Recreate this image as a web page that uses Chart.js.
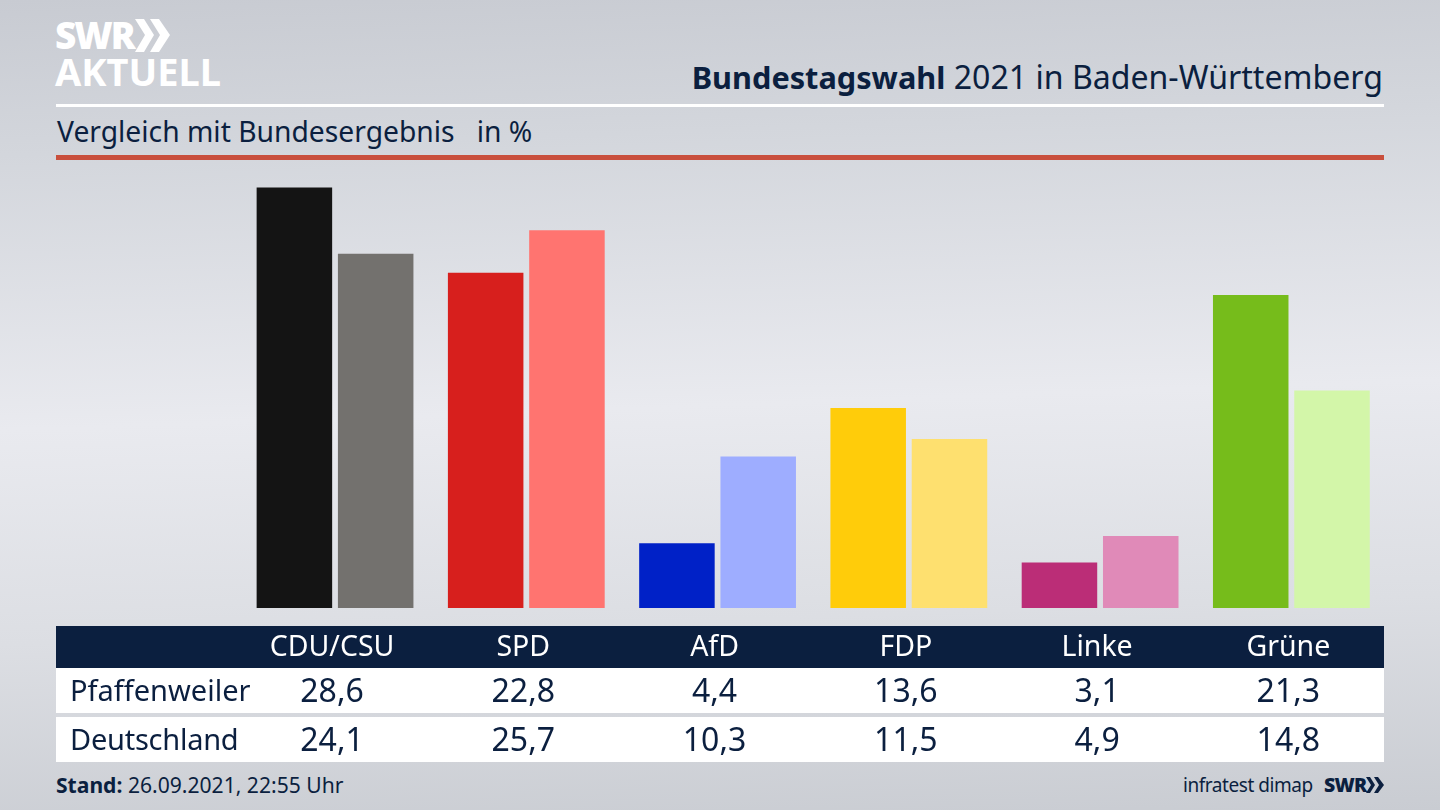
<!DOCTYPE html>
<html lang="de"><head><meta charset="utf-8"><title>Bundestagswahl 2021 in Baden-Württemberg</title>
<script src="https://cdn.jsdelivr.net/npm/chart.js@4/dist/chart.umd.min.js"></script>
<style>
html,body{margin:0;padding:0;width:1440px;height:810px;overflow:hidden}
body{position:relative;font-family:"Noto Sans",sans-serif;color:#0b1f3f;
background:linear-gradient(178deg,#c8cbd2 0%,#d3d6dc 18%,#e9eaef 50%,#dcdee3 75%,#c9ccd2 100%)}
.a{position:absolute;white-space:nowrap}
#cv{position:absolute;left:0;top:0;z-index:2}
.cell{transform:translateX(-50%);font-size:32px;line-height:40px;z-index:3}
.lab{left:70px;font-size:29px;line-height:40px;z-index:3}
</style></head><body>
<div class="a" style="left:55px;top:12px;font:900 37px/46px 'Noto Sans';color:#fff;letter-spacing:-2px">SWR</div>
<svg class="a" style="left:135px;top:19px" width="36" height="34"><path d="M0 0h9l10 16-10 17H0l10-17zM15 0h9l11 16-11 17h-9l10-17z" fill="#fff"/></svg>
<div class="a" style="left:55px;top:48px;font:700 38px/46px 'Noto Sans';color:#fff;letter-spacing:0">AKTUELL</div>
<div class="a" style="right:57px;top:55px;font-size:32.1px;line-height:44px"><b style="font-size:30.7px">Bundestagswahl</b> 2021 in Baden-Württemberg</div>
<div class="a" style="left:56px;top:104px;width:1328px;height:3px;background:#fff"></div>
<div class="a" style="left:57px;top:110px;font-size:28.25px;line-height:42px">Vergleich mit Bundesergebnis&nbsp;&nbsp; in %</div>
<div class="a" style="left:56px;top:155px;width:1328px;height:5px;background:#c94f3d"></div>
<div class="a" style="left:56px;top:626px;width:1328px;height:42px;background:#0b1f3f"></div>
<div class="a" style="left:56px;top:668px;width:1328px;height:45px;background:#fff"></div>
<div class="a" style="left:56px;top:717px;width:1328px;height:45px;background:#fff"></div>
<div id="rows"></div>
<div class="a" style="left:56px;top:770px;font-size:21.1px;line-height:30px"><b>Stand:</b> 26.09.2021, 22:55 Uhr</div>
<div class="a" style="left:1183px;top:770px;font-size:19px;line-height:30px;letter-spacing:-.45px">infratest dimap</div>
<div class="a" style="left:1324px;top:770px;font:900 19.5px/30px 'Noto Sans';letter-spacing:-.8px">SWR</div>
<svg class="a" style="left:1366px;top:777px" width="18" height="16"><path d="M0 0h4l5 8-5 8H0l5-8zM8 0h4l6 8-6 8H8l5-8z" fill="#0b1f3f"/></svg>
<canvas id="cv" width="1440" height="810" style="width:1440px;height:810px"></canvas>
<script>
const categories=["CDU/CSU","SPD","AfD","FDP","Linke","Grüne"];
const seriesNames=["Pfaffenweiler","Deutschland"];
const pfaffenweiler=[28.6,22.8,4.4,13.6,3.1,21.3];
const deutschland=[24.1,25.7,10.3,11.5,4.9,14.8];
const coloursLocal=["#141414","#d71f1d","#0021c7","#ffcc0a","#bb2d77","#76bc1b"];
const coloursNational=["#73716e","#ff7470","#9eadff","#fee06f","#e08ab8","#d3f6a9"];
const fmt=v=>v.toFixed(1).replace(".",",");
const chart=new Chart(document.getElementById("cv"),{
  type:"bar",
  data:{labels:categories,datasets:[
    {label:seriesNames[0],data:pfaffenweiler,backgroundColor:coloursLocal,borderWidth:0},
    {label:seriesNames[1],data:deutschland,backgroundColor:coloursNational,borderWidth:0}]},
  options:{responsive:false,animation:false,devicePixelRatio:1,
    categoryPercentage:0.85,barPercentage:0.929,
    layout:{padding:{left:239.4,right:53,top:167,bottom:142}},
    plugins:{legend:{display:false},tooltip:{enabled:false}},
    scales:{
      y:{display:false,min:0,max:30},
      x:{grid:{display:false},border:{display:false},
         afterFit:s=>{s.height=60},
         ticks:{color:"#fff",font:{family:"Noto Sans",size:28.5},padding:15,maxRotation:0,autoSkip:false,labelOffset:-3}}
    }}
});
const rows=document.getElementById("rows");
[[pfaffenweiler,670],[deutschland,719]].forEach((r,i)=>{
  const l=document.createElement("div");l.className="a lab";l.style.top=r[1]+"px";l.textContent=seriesNames[i];
  if(i===1)l.style.letterSpacing="-.25px";
  rows.appendChild(l);
  r[0].forEach((v,j)=>{
    const c=document.createElement("div");c.className="a cell";c.style.top=r[1]+"px";
    c.style.left=(chart.scales.x.getPixelForValue(j)-3)+"px";c.textContent=fmt(v);rows.appendChild(c);
  });
});
</script></body></html>
